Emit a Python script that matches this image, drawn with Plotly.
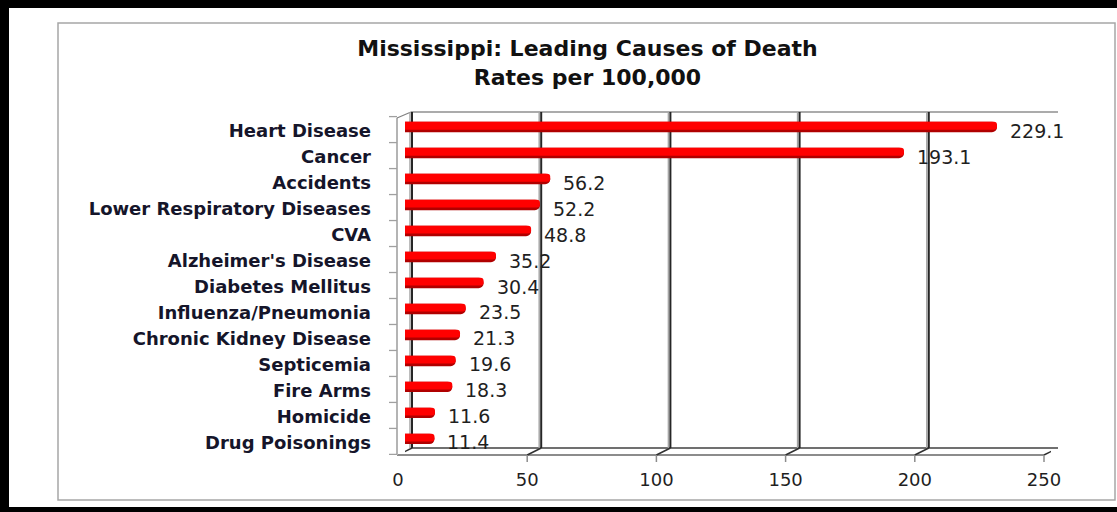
import plotly.graph_objects as go

causes = ["Heart Disease", "Cancer", "Accidents", "Lower Respiratory Diseases", "CVA",
          "Alzheimer's Disease", "Diabetes Mellitus", "Influenza/Pneumonia",
          "Chronic Kidney Disease", "Septicemia", "Fire Arms", "Homicide", "Drug Poisonings"]
rates = [229.1, 193.1, 56.2, 52.2, 48.8, 35.2, 30.4, 23.5, 21.3, 19.6, 18.3, 11.6, 11.4]
x_ticks = [0, 50, 100, 150, 200, 250]
title_lines = ["Mississippi: Leading Causes of Death", "Rates per 100,000"]

W, H = 1117, 512
L, R, T, B = 405, 66, 112, 57
PW, PH = W - L - R, H - T - B
DEPTH = 7  # half of the 3D depth offset, px


def fx(p):
    return (p - L) / PW


def fy(p):
    return (H - B - p) / PH


fig = go.Figure()
fig.add_trace(go.Bar(x=rates, y=causes, orientation="h", width=0.4, offset=-0.22,
                     marker=dict(color="#B00000", cornerradius=5, line=dict(width=0)),
                     hoverinfo="skip"))
fig.add_trace(go.Bar(x=rates, y=causes, orientation="h", width=0.3, offset=-0.22,
                     marker=dict(color="#FF0000", cornerradius=4, line=dict(width=0)),
                     hoverinfo="x+y"))

shapes = []
# back wall top edge and floor edges
shapes.append(dict(type="line", xref="paper", yref="paper", x0=fx(L + DEPTH - 1), x1=fx(L + PW + DEPTH),
                   y0=fy(T), y1=fy(T), line=dict(color="#595959", width=1.2), layer="below"))
shapes.append(dict(type="line", xref="paper", yref="paper", x0=fx(L + DEPTH), x1=fx(L + PW + DEPTH),
                   y0=fy(H - B - 7), y1=fy(H - B - 7),
                   line=dict(color="#404040", width=1.5), layer="below"))
shapes.append(dict(type="line", xref="paper", yref="paper", x0=fx(L - DEPTH - 1), x1=fx(L + PW - DEPTH),
                   y0=0, y1=0, line=dict(color="#8C8C8C", width=2), layer="below"))
# left wall
shapes.append(dict(type="line", xref="paper", yref="paper", x0=fx(L - DEPTH - 1), x1=fx(L - DEPTH - 1),
                   y0=0, y1=fy(T + 6), line=dict(color="#B4B4B4", width=2), layer="below"))
shapes.append(dict(type="line", xref="paper", yref="paper", x0=fx(L - DEPTH - 1), x1=fx(L + DEPTH - 1),
                   y0=fy(T + 6), y1=fy(T), line=dict(color="#808080", width=1.2), layer="below"))
for k in range(len(causes) + 1):
    shapes.append(dict(type="line", xref="paper", yref="y", ysizemode="pixel", yanchor=k - 0.5,
                       x0=fx(L - DEPTH - 9), x1=fx(L - DEPTH - 1), y0=-2, y1=-2,
                       line=dict(color="#A0A0A0", width=1.3), layer="below"))
# gridlines, floor diagonals and front ticks
for v in x_ticks:
    shapes.append(dict(type="line", xref="x", xsizemode="pixel", xanchor=v, x0=DEPTH - 2, x1=DEPTH - 2,
                       yref="paper", y0=fy(H - B - 7), y1=fy(T), line=dict(color="#A6A6A6", width=1.5),
                       layer="below"))
    shapes.append(dict(type="line", xref="x", xsizemode="pixel", xanchor=v, x0=DEPTH, x1=DEPTH,
                       yref="paper", y0=fy(H - B - 7), y1=fy(T),
                       line=dict(color="#262626", width=3 if v == x_ticks[-1] else 2), layer="below"))
    shapes.append(dict(type="line", xref="x", xsizemode="pixel", xanchor=v, x0=-DEPTH, x1=DEPTH,
                       yref="paper", y0=0, y1=fy(H - B - 7), line=dict(color="#303030", width=1.5),
                       layer="below"))
    shapes.append(dict(type="line", xref="x", xsizemode="pixel", xanchor=v, x0=-DEPTH, x1=-DEPTH,
                       yref="paper", y0=0, y1=fy(H - B + 7), line=dict(color="#8C8C8C", width=1.5),
                       layer="below"))
# outer frame and black border
shapes.append(dict(type="rect", xref="paper", yref="paper", x0=fx(58), x1=fx(1115), y0=fy(500), y1=fy(23),
                   line=dict(color="#A6A6A6", width=1.5), layer="below"))
for (a, b, c, d) in [(0, 9, 0, 512), (0, 1117, 0, 8), (0, 1117, 507, 512)]:
    shapes.append(dict(type="rect", xref="paper", yref="paper", x0=fx(a), x1=fx(b), y0=fy(d), y1=fy(c),
                       fillcolor="black", line=dict(width=0), layer="above"))

annotations = []
for c, v in zip(causes, rates):
    annotations.append(dict(x=v, y=c, xref="x", yref="y", text=f"{v:.1f}", showarrow=False,
                            xanchor="left", yanchor="middle", xshift=11, yshift=-3,
                            font=dict(family="DejaVu Sans", size=19, color="#1F1F1F")))

fig.update_layout(
    width=W, height=H,
    margin=dict(l=L, r=R, t=T, b=B, autoexpand=False),
    paper_bgcolor="white", plot_bgcolor="rgba(0,0,0,0)",
    barmode="overlay", showlegend=False,
    title=dict(text="<br>".join(title_lines), xref="paper", x=fx(587.5), xanchor="center",
               yref="container", y=1 - 56 / H, yanchor="top",
               font=dict(family="DejaVu Sans", size=22, weight="bold", color="#111111")),
    xaxis=dict(range=[0, 250], tickvals=x_ticks, ticks="", showgrid=False, zeroline=False,
               showline=False, automargin=False, ticklabelshift=-DEPTH, ticklabelstandoff=12,
               tickfont=dict(family="DejaVu Sans", size=18, color="#1F1F1F")),
    yaxis=dict(type="category", range=[len(causes) - 0.4, -0.6], autorange=False, ticks="",
               showgrid=False, zeroline=False, showline=False, automargin=False,
               ticklabelstandoff=33, ticklabelshift=-3,
               tickfont=dict(family="DejaVu Sans", size=18, weight="bold", color="#15152A")),
    shapes=shapes, annotations=annotations,
)

fig.write_html("out.html", config={"displayModeBar": False},
               post_script="document.body.style.margin='0';")
